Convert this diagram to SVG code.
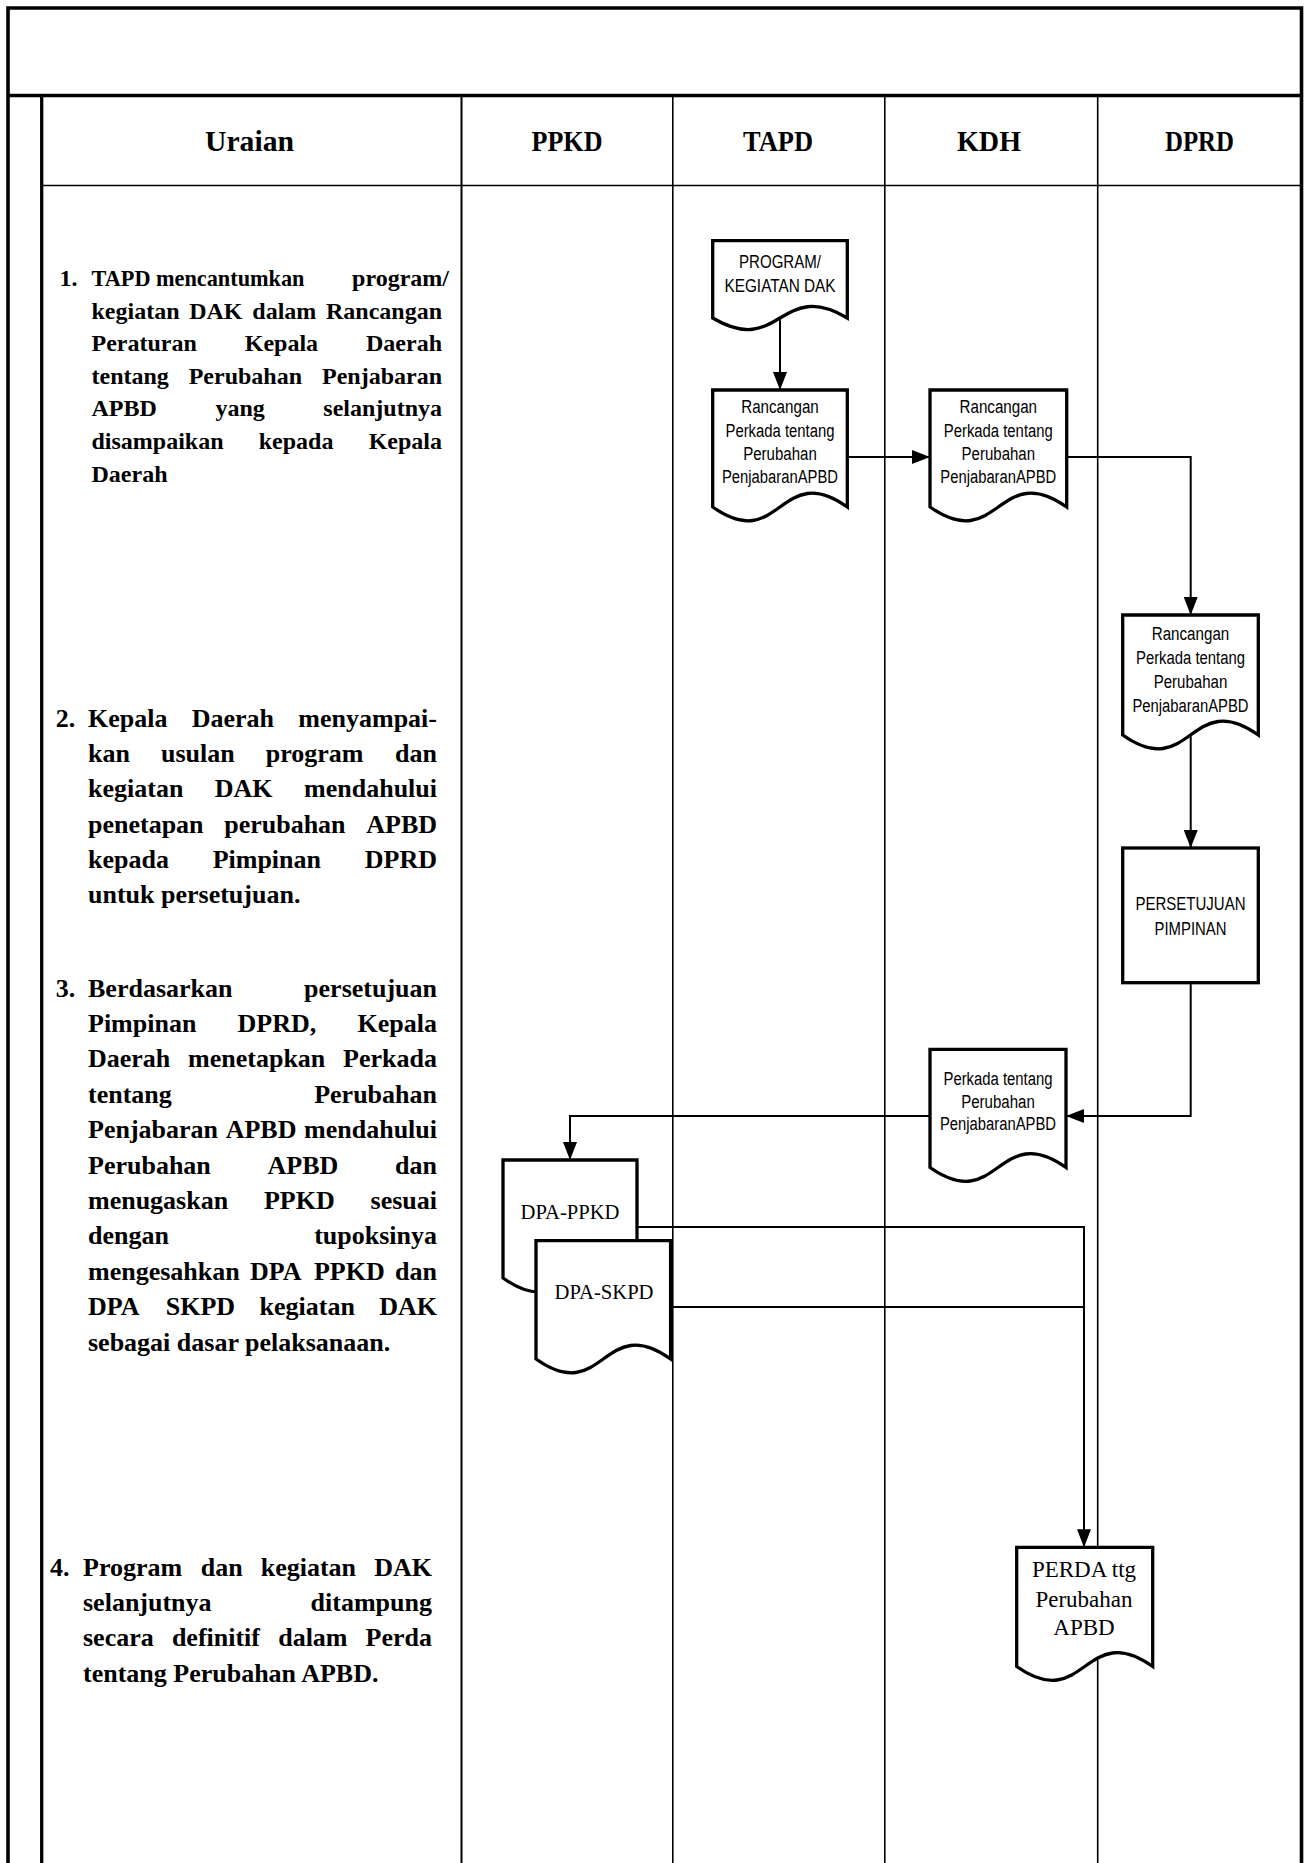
<svg xmlns="http://www.w3.org/2000/svg" width="1304" height="1863" viewBox="0 0 1304 1863">
<style>
  .frame{stroke:#000;stroke-width:3.6;fill:none}
  .col{stroke:#000;stroke-width:1.6;fill:none}
  .node{fill:#fff;stroke:#000;stroke-width:3.3;stroke-linejoin:miter}
  .conn{fill:none;stroke:#000;stroke-width:2}
  .hdr{font-family:"Liberation Serif","Times New Roman",serif;font-weight:bold;font-size:29px;text-anchor:middle}
  .s1{font-family:"Liberation Serif","Times New Roman",serif;font-weight:bold;font-size:24px}
  .s2{font-family:"Liberation Serif","Times New Roman",serif;font-weight:bold;font-size:26px}
  .e{text-anchor:end}
  .m{text-anchor:middle}
  .sans{font-family:"Liberation Sans",Arial,sans-serif;font-size:18px;text-anchor:middle}
  .serif{font-family:"Liberation Serif","Times New Roman",serif;text-anchor:middle}
</style>
<defs>
  <marker id="ah" markerUnits="userSpaceOnUse" markerWidth="18" markerHeight="14" viewBox="0 0 18 14" refX="18" refY="7" orient="auto">
    <path d="M0,0 L18,7 L0,14 Z" fill="#000"/>
  </marker>
</defs>
<rect width="1304" height="1863" fill="#fff"/>

<g id="table">
  <path class="frame" d="M8,1870 V8 H1301.5 V1870"/>
  <line class="frame" x1="8" y1="95.5" x2="1301.5" y2="95.5"/>
  <line class="frame" x1="41.7" y1="97" x2="41.7" y2="1870" style="stroke-width:3.3"/>
  <line class="col" x1="41.7" y1="185.5" x2="1301.5" y2="185.5"/>
  <line class="col" x1="461.5" y1="97" x2="461.5" y2="1870" style="stroke-width:2"/>
  <line class="col" x1="672.8" y1="97" x2="672.8" y2="1870"/>
  <line class="col" x1="884.8" y1="97" x2="884.8" y2="1870"/>
  <line class="col" x1="1097.7" y1="97" x2="1097.7" y2="1870"/>
  <text class="hdr" x="249.5" y="151" textLength="89" lengthAdjust="spacingAndGlyphs">Uraian</text>
  <text class="hdr" x="567" y="151" textLength="71" lengthAdjust="spacingAndGlyphs">PPKD</text>
  <text class="hdr" x="778" y="151" textLength="70" lengthAdjust="spacingAndGlyphs">TAPD</text>
  <text class="hdr" x="989" y="151" textLength="64" lengthAdjust="spacingAndGlyphs">KDH</text>
  <text class="hdr" x="1199.5" y="151" textLength="69" lengthAdjust="spacingAndGlyphs">DPRD</text>
</g>

<g id="step1" class="s1">
  <text x="59.4" y="286">1.</text>
  <text x="91.5" y="286" textLength="213" lengthAdjust="spacingAndGlyphs">TAPD mencantumkan</text>
  <text class="e" x="449" y="286">program/</text>
  <text x="91.5" y="318.6">kegiatan</text>
  <text x="189.2" y="318.6">DAK</text>
  <text x="252.3" y="318.6">dalam</text>
  <text class="e" x="442" y="318.6">Rancangan</text>
  <text x="91.5" y="351.2">Peraturan</text>
  <text x="244.75" y="351.2">Kepala</text>
  <text class="e" x="442" y="351.2">Daerah</text>
  <text x="91.5" y="383.8">tentang</text>
  <text x="188.7" y="383.8">Perubahan</text>
  <text class="e" x="442" y="383.8">Penjabaran</text>
  <text x="91.5" y="416.4">APBD</text>
  <text x="215.4" y="416.4">yang</text>
  <text class="e" x="442" y="416.4">selanjutnya</text>
  <text x="91.5" y="449">disampaikan</text>
  <text x="258.75" y="449">kepada</text>
  <text class="e" x="442" y="449">Kepala</text>
  <text x="91.5" y="481.6">Daerah</text>
</g>

<g id="step2" class="s2">
  <text x="55.8" y="727">2.</text>
  <text x="88" y="727">Kepala</text>
  <text x="191.75" y="727">Daerah</text>
  <text class="e" x="437" y="727">menyampai-</text>
  <text x="88" y="762">kan</text>
  <text x="161" y="762">usulan</text>
  <text x="265.8" y="762">program</text>
  <text class="e" x="437" y="762">dan</text>
  <text x="88" y="797">kegiatan</text>
  <text x="214.8" y="797">DAK</text>
  <text class="e" x="437" y="797">mendahului</text>
  <text x="88" y="832.5">penetapan</text>
  <text x="224.2" y="832.5">perubahan</text>
  <text class="e" x="437" y="832.5">APBD</text>
  <text x="88" y="867.5">kepada</text>
  <text x="212.65" y="867.5">Pimpinan</text>
  <text class="e" x="437" y="867.5">DPRD</text>
  <text x="88" y="902.5">untuk persetujuan.</text>
</g>

<g id="step3" class="s2">
  <text x="55.8" y="996.6">3.</text>
  <text x="88" y="996.6">Berdasarkan</text>
  <text class="e" x="437" y="996.6">persetujuan</text>
  <text x="88" y="1032">Pimpinan</text>
  <text x="237.6" y="1032">DPRD,</text>
  <text class="e" x="437" y="1032">Kepala</text>
  <text x="88" y="1067.4">Daerah</text>
  <text x="188.1" y="1067.4">menetapkan</text>
  <text class="e" x="437" y="1067.4">Perkada</text>
  <text x="88" y="1102.8">tentang</text>
  <text class="e" x="437" y="1102.8">Perubahan</text>
  <text x="88" y="1138.2">Penjabaran</text>
  <text x="225.65" y="1138.2">APBD</text>
  <text class="e" x="437" y="1138.2">mendahului</text>
  <text x="88" y="1173.6">Perubahan</text>
  <text x="267.55" y="1173.6">APBD</text>
  <text class="e" x="437" y="1173.6">dan</text>
  <text x="88" y="1209">menugaskan</text>
  <text x="263.9" y="1209">PPKD</text>
  <text class="e" x="437" y="1209">sesuai</text>
  <text x="88" y="1244.4">dengan</text>
  <text class="e" x="437" y="1244.4">tupoksinya</text>
  <text x="88" y="1279.8">mengesahkan</text>
  <text x="250.1" y="1279.8">DPA</text>
  <text x="313.9" y="1279.8">PPKD</text>
  <text class="e" x="437" y="1279.8">dan</text>
  <text x="88" y="1315.2">DPA</text>
  <text x="165.8" y="1315.2">SKPD</text>
  <text x="259.5" y="1315.2">kegiatan</text>
  <text class="e" x="437" y="1315.2">DAK</text>
  <text x="88" y="1350.6">sebagai dasar pelaksanaan.</text>
</g>

<g id="step4" class="s2">
  <text x="50" y="1576.2">4.</text>
  <text x="83" y="1576.2">Program</text>
  <text x="200.7" y="1576.2">dan</text>
  <text x="260.7" y="1576.2">kegiatan</text>
  <text class="e" x="432" y="1576.2">DAK</text>
  <text x="83" y="1611.3">selanjutnya</text>
  <text class="e" x="432" y="1611.3">ditampung</text>
  <text x="83" y="1646.4">secara</text>
  <text x="171.9" y="1646.4">definitif</text>
  <text x="278.2" y="1646.4">dalam</text>
  <text class="e" x="432" y="1646.4">Perda</text>
  <text x="83" y="1681.5">tentang Perubahan APBD.</text>
</g>

<g id="connectors">
  <path class="conn" d="M780,318 V390" marker-end="url(#ah)"/>
  <path class="conn" d="M847.3,457 H930" marker-end="url(#ah)"/>
  <path class="conn" d="M1066.7,457 H1190.7 V615" marker-end="url(#ah)"/>
  <path class="conn" d="M1190.7,735 V848" marker-end="url(#ah)"/>
  <path class="conn" d="M1190.7,982.7 V1116 H1066" marker-end="url(#ah)"/>
  <path class="conn" d="M930,1116 H570 V1160" marker-end="url(#ah)"/>
  <path class="conn" d="M637,1227 H1084 V1547.3" marker-end="url(#ah)"/>
  <path class="conn" d="M670.6,1307 H1084"/>
</g>

<g id="doc-program">
  <path class="node" d="M712.7,240.7 H847.3 V318 C780,278 780,358 712.7,318 Z"/>
  <text class="sans" x="780" y="268" textLength="82" lengthAdjust="spacingAndGlyphs">PROGRAM/</text>
  <text class="sans" x="780" y="291.5" textLength="111" lengthAdjust="spacingAndGlyphs">KEGIATAN DAK</text>
</g>

<g id="doc-rancangan-tapd">
  <path class="node" d="M712.7,390 H847.3 V507 C780,459 780,555 712.7,507 Z"/>
  <text class="sans" x="780" y="413" textLength="77.5" lengthAdjust="spacingAndGlyphs">Rancangan</text>
  <text class="sans" x="780" y="436.5" textLength="109" lengthAdjust="spacingAndGlyphs">Perkada tentang</text>
  <text class="sans" x="780" y="460" textLength="73.5" lengthAdjust="spacingAndGlyphs">Perubahan</text>
  <text class="sans" x="780" y="483" textLength="116" lengthAdjust="spacingAndGlyphs">PenjabaranAPBD</text>
</g>

<g id="doc-rancangan-kdh">
  <path class="node" d="M930,390 H1066.7 V507 C998.3,459 998.3,555 930,507 Z"/>
  <text class="sans" x="998.3" y="413" textLength="77.5" lengthAdjust="spacingAndGlyphs">Rancangan</text>
  <text class="sans" x="998.3" y="436.5" textLength="109" lengthAdjust="spacingAndGlyphs">Perkada tentang</text>
  <text class="sans" x="998.3" y="460" textLength="73.5" lengthAdjust="spacingAndGlyphs">Perubahan</text>
  <text class="sans" x="998.3" y="483" textLength="116" lengthAdjust="spacingAndGlyphs">PenjabaranAPBD</text>
</g>

<g id="doc-rancangan-dprd">
  <path class="node" d="M1122.7,615 H1258.3 V735 C1190.5,687 1190.5,783 1122.7,735 Z"/>
  <text class="sans" x="1190.5" y="640" textLength="77.5" lengthAdjust="spacingAndGlyphs">Rancangan</text>
  <text class="sans" x="1190.5" y="663.5" textLength="109" lengthAdjust="spacingAndGlyphs">Perkada tentang</text>
  <text class="sans" x="1190.5" y="688" textLength="73.5" lengthAdjust="spacingAndGlyphs">Perubahan</text>
  <text class="sans" x="1190.5" y="711.5" textLength="116" lengthAdjust="spacingAndGlyphs">PenjabaranAPBD</text>
</g>

<g id="proc-persetujuan">
  <rect class="node" x="1122.7" y="848" width="135.6" height="134.7"/>
  <text class="sans" x="1190.5" y="909.5" textLength="110" lengthAdjust="spacingAndGlyphs">PERSETUJUAN</text>
  <text class="sans" x="1190.5" y="934.5" textLength="72" lengthAdjust="spacingAndGlyphs">PIMPINAN</text>
</g>

<g id="doc-perkada">
  <path class="node" d="M930,1049.3 H1066 V1167.5 C998,1119.5 998,1215.5 930,1167.5 Z"/>
  <text class="sans" x="998" y="1084.5" textLength="109" lengthAdjust="spacingAndGlyphs">Perkada tentang</text>
  <text class="sans" x="998" y="1107.5" textLength="73.5" lengthAdjust="spacingAndGlyphs">Perubahan</text>
  <text class="sans" x="998" y="1130" textLength="116" lengthAdjust="spacingAndGlyphs">PenjabaranAPBD</text>
</g>

<g id="doc-dpa-ppkd">
  <path class="node" d="M503,1160 H637 V1278 C570,1230 570,1326 503,1278 Z"/>
  <text class="serif" x="570" y="1219" style="font-size:21px" textLength="99" lengthAdjust="spacingAndGlyphs">DPA-PPKD</text>
</g>

<g id="doc-dpa-skpd">
  <path class="node" d="M536,1240.7 H670.6 V1359 C603.3,1311 603.3,1407 536,1359 Z"/>
  <text class="serif" x="604" y="1299" style="font-size:21px" textLength="99" lengthAdjust="spacingAndGlyphs">DPA-SKPD</text>
</g>

<g id="doc-perda">
  <path class="node" d="M1016.7,1547.3 H1152.7 V1666.5 C1084.7,1618.5 1084.7,1714.5 1016.7,1666.5 Z"/>
  <text class="serif" x="1084" y="1577" style="font-size:23px">PERDA ttg</text>
  <text class="serif" x="1084" y="1606.5" style="font-size:23px">Perubahan</text>
  <text class="serif" x="1084" y="1635" style="font-size:23px">APBD</text>
</g>
</svg>
